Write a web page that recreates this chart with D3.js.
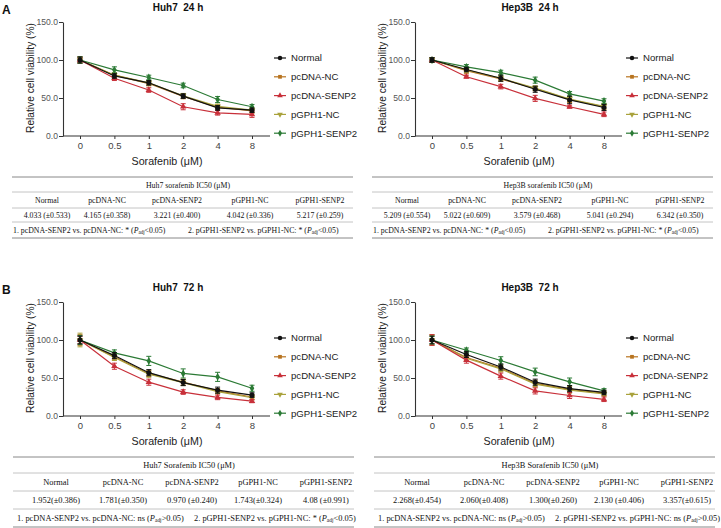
<!DOCTYPE html>
<html><head><meta charset="utf-8">
<script src="https://cdn.jsdelivr.net/npm/d3@7"></script>
<style>
body{margin:0;background:#fff;}
svg{display:block;font-family:"Liberation Sans",Arial,sans-serif;}
</style></head><body>
<svg id="c" width="721" height="528"></svg>
<script>
// ---------- DATA ----------
const doses = ["0","0.5","1","2","4","8"];
const seriesNames = ["Normal","pcDNA-NC","pcDNA-SENP2","pGPH1-NC","pGPH1-SENP2"];
const seriesColors = ["#111111","#b87420","#c8303a","#a9a23c","#2b7a35"];
const yTicks = [0,50,100,150];

const huh7_24h_values = [
  [100,79,70,52.5,37,34],
  [100,80,69,52,38,33],
  [100,76,60.5,38.5,30.5,28.5],
  [100,80,70,53,39,34],
  [100,87,77,66.5,48,38.5]
];
const huh7_24h_errors = [
  [4,3,3,3,3,3],
  [4,3,3,3,3,3],
  [3,3,3,4,3,4],
  [4,3,3,3,3,3],
  [4,4,3,3,4,3]
];
const hep3b_24h_values = [
  [100,87.5,76,61.5,47.5,37.5],
  [100,86,75,62.5,48,38.5],
  [100,78,65,49.5,38.5,28.5],
  [100,87,76,63,48.5,39],
  [100,91,83.5,73.5,55.5,46]
];
const hep3b_24h_errors = [
  [3,3,4,4,5,4],
  [3,4,3,3,4,4],
  [3,2,3,4,2,3],
  [3,3,3,3,3,3],
  [3,3,3,4,3,3]
];
const huh7_72h_values = [
  [100,79.5,57,44,34,27.5],
  [100,78,56,44.5,33,25],
  [100,65.5,44.5,31.5,24.5,19.5],
  [100,77,55,44,32,24],
  [100,83,72.5,56,51.5,36.5]
];
const huh7_72h_errors = [
  [5,4,4,4,4,3],
  [7,4,4,4,3,3],
  [5,4,4,3,3,2],
  [9,4,4,4,3,3],
  [6,4,6,6,6,4]
];
const hep3b_72h_values = [
  [100,81,64.5,44.5,36,31],
  [100,77,63,43,35,30],
  [100,73.5,52.5,33,27,22],
  [100,76,62,42,34,29],
  [100,86.5,73,58,45,33]
];
const hep3b_72h_errors = [
  [5,4,4,4,4,3],
  [7,4,4,4,4,3],
  [7,4,4,4,4,3],
  [6,4,4,4,4,3],
  [5,3,5,5,5,3]
];

const tableTitles = ["Huh7 sorafenib IC50 (μM)","Hep3B sorafenib IC50 (μM)","Huh7 Sorafenib IC50 (μM)","Hep3B Sorafenib IC50 (μM)"];
const ic50_huh7_24h = ["4.033 (±0.533)","4.165 (±0.358)","3.221 (±0.400)","4.042 (±0.336)","5.217 (±0.259)"];
const ic50_hep3b_24h = ["5.209 (±0.554)","5.022 (±0.609)","3.579 (±0.468)","5.041 (±0.294)","6.342 (±0.350)"];
const ic50_huh7_72h = ["1.952(±0.386)","1.781(±0.350)","0.970 (±0.240)","1.743(±0.324)","4.08 (±0.991)"];
const ic50_hep3b_72h = ["2.268(±0.454)","2.060(±0.408)","1.300(±0.260)","2.130 (±0.406)","3.357(±0.615)"];
const notes_huh7_24h = [["1. pcDNA-SENP2 vs. pcDNA-NC: * (","<0.05)"],["2. pGPH1-SENP2 vs. pGPH1-NC: * (","<0.05)"]];
const notes_hep3b_24h = [["1. pcDNA-SENP2 vs. pcDNA-NC: * (","<0.05)"],["2. pGPH1-SENP2 vs. pGPH1-NC: * (","<0.05)"]];
const notes_huh7_72h = [["1. pcDNA-SENP2 vs. pcDNA-NC: ns (",">0.05)"],["2. pGPH1-SENP2 vs. pGPH1-NC: * (","<0.05)"]];
const notes_hep3b_72h = [["1. pcDNA-SENP2 vs. pcDNA-NC: ns (",">0.05)"],["2. pGPH1-SENP2 vs. pGPH1-NC: ns (",">0.05)"]];

// ---------- LAYOUT ----------
const svg = d3.select("#c");
const shapes = [d3.symbolCircle, d3.symbolSquare, d3.symbolTriangle, d3.symbolTriangle, d3.symbolDiamond];
const shapeRot = [0,0,0,180,0];
const shapeSize = [20,18,18,18,18];

const panels = [
  {title:"Huh7  24 h", values:huh7_24h_values, errors:huh7_24h_errors, dx:0, dy:0, letter:"A",
   tTitle:tableTitles[0], ic50:ic50_huh7_24h, notes:notes_huh7_24h, tx:12, tset:0},
  {title:"Hep3B  24 h", values:hep3b_24h_values, errors:hep3b_24h_errors, dx:352, dy:0, letter:null,
   tTitle:tableTitles[1], ic50:ic50_hep3b_24h, notes:notes_hep3b_24h, tx:372, tset:0},
  {title:"Huh7  72 h", values:huh7_72h_values, errors:huh7_72h_errors, dx:0, dy:280, letter:"B",
   tTitle:tableTitles[2], ic50:ic50_huh7_72h, notes:notes_huh7_72h, tx:13, tset:1},
  {title:"Hep3B  72 h", values:hep3b_72h_values, errors:hep3b_72h_errors, dx:352, dy:280, letter:null,
   tTitle:tableTitles[3], ic50:ic50_hep3b_72h, notes:notes_hep3b_72h, tx:374, tset:1}
];

const tableLayouts = [
  {lines:[177,192,208,222,238], rows:[185,200.5,215,230.5], cols:[35,95,165,238,308], notesX:[1,176], fs:7.8},
  {lines:[457,473,491,509,527], rows:[465,482,500,518], cols:[43,110,179,245,313], notesX:[4,181], fs:8.4}
];
const tableW = 341;
const drawOrder = [1,3,2,4,0];

panels.forEach(p => {
  const g = svg.append("g");
  const y = d3.scaleLinear().domain([0,150]).range([136+p.dy, 22+p.dy]);
  const x = d3.scalePoint().domain(doses).range([80+p.dx, 252+p.dx]);
  const axX = 63+p.dx;

  if (p.letter) g.append("text").attr("x",2).attr("y",14+p.dy).attr("font-weight","bold")
      .attr("font-size",12).attr("fill","#111").text(p.letter);
  g.append("text").attr("x",178+p.dx).attr("y",11+p.dy).attr("text-anchor","middle")
    .attr("font-weight","bold").attr("font-size",10).attr("fill","#111").style("white-space","pre").text(p.title);

  // y axis
  const ya = g.append("g").attr("transform",`translate(${axX},0)`)
    .call(d3.axisLeft(y).tickValues(yTicks).tickFormat(d3.format(".1f")).tickSize(4).tickSizeOuter(0));
  ya.select(".domain").attr("stroke","#333").attr("stroke-width",1.1);
  ya.selectAll(".tick line").attr("stroke","#333");
  ya.selectAll(".tick text").attr("font-size",8.6).attr("fill","#555").attr("font-family","Liberation Sans, Arial, sans-serif").attr("x",-5);

  // x axis
  const xa = g.append("g").attr("transform",`translate(0,${136+p.dy})`)
    .call(d3.axisBottom(x).tickSize(3));
  xa.select(".domain").remove();
  xa.append("line").attr("x1",axX).attr("x2",270+p.dx).attr("stroke","#333").attr("stroke-width",1.1);
  xa.selectAll(".tick line").attr("stroke","#333");
  xa.selectAll(".tick text").attr("font-size",9.5).attr("fill","#444").attr("font-family","Liberation Sans, Arial, sans-serif").attr("y",6);

  g.append("text").attr("transform",`translate(${34+p.dx},${78+p.dy}) rotate(-90)`).attr("text-anchor","middle")
    .attr("font-size",10.2).attr("fill","#222").text("Relative cell viability (%)");
  g.append("text").attr("x",167+p.dx).attr("y",165+p.dy).attr("text-anchor","middle")
    .attr("font-size",10.7).attr("fill","#222").text("Sorafenib (μM)");

  // series
  drawOrder.forEach(si => {
    const vals = p.values[si], errs = p.errors[si], col = seriesColors[si];
    const sg = g.append("g");
    sg.append("path").datum(vals)
      .attr("d", d3.line().x((d,i)=>x(doses[i])).y(d=>y(d)))
      .attr("fill","none").attr("stroke",col).attr("stroke-width",1.2);
    vals.forEach((v,i) => {
      const cx = x(doses[i]);
      sg.append("line").attr("x1",cx).attr("x2",cx).attr("y1",y(v-errs[i])).attr("y2",y(v+errs[i])).attr("stroke",col).attr("stroke-width",1);
      [v-errs[i], v+errs[i]].forEach(e => sg.append("line").attr("x1",cx-2.5).attr("x2",cx+2.5).attr("y1",y(e)).attr("y2",y(e)).attr("stroke",col).attr("stroke-width",1));
      sg.append("path").attr("d", d3.symbol(shapes[si], shapeSize[si])())
        .attr("transform",`translate(${cx},${y(v)}) rotate(${shapeRot[si]})`).attr("fill",col);
    });
  });

  // legend
  seriesNames.forEach((n,si) => {
    const ly = 58 + p.dy + si*18.8;
    g.append("line").attr("x1",274+p.dx).attr("x2",286+p.dx).attr("y1",ly).attr("y2",ly).attr("stroke",seriesColors[si]).attr("stroke-width",1.2);
    g.append("path").attr("d", d3.symbol(shapes[si], shapeSize[si]-4)())
      .attr("transform",`translate(${280+p.dx},${ly}) rotate(${shapeRot[si]})`).attr("fill",seriesColors[si]);
    g.append("text").attr("x",291+p.dx).attr("y",ly).attr("dy","0.35em").attr("font-size",9.6).attr("fill","#222").text(n);
  });

  // table
  const tl = tableLayouts[p.tset];
  const tg = g.append("g").attr("font-family","Liberation Serif, Times New Roman, serif").attr("font-size",tl.fs).attr("fill","#111");
  tl.lines.forEach((ly,i) => {
    tg.append("line").attr("x1",p.tx).attr("x2",p.tx+tableW).attr("y1",ly).attr("y2",ly)
      .attr("stroke", (i===0||i===tl.lines.length-1) ? "#888" : "#c4c4c4").attr("stroke-width",1);
  });
  tg.append("text").attr("x",p.tx+176).attr("y",tl.rows[0]).attr("dy","0.35em").attr("text-anchor","middle").text(p.tTitle);
  seriesNames.forEach((n,ci) => {
    tg.append("text").attr("x",p.tx+tl.cols[ci]).attr("y",tl.rows[1]).attr("dy","0.35em").attr("text-anchor","middle").text(n);
    tg.append("text").attr("x",p.tx+tl.cols[ci]).attr("y",tl.rows[2]).attr("dy","0.35em").attr("text-anchor","middle").text(p.ic50[ci]);
  });
  p.notes.forEach((nt,ni) => {
    const t = tg.append("text").attr("x",p.tx+tl.notesX[ni]).attr("y",tl.rows[3]).attr("dy","0.35em");
    t.append("tspan").text(nt[0]);
    t.append("tspan").attr("font-style","italic").text("P");
    t.append("tspan").attr("font-size",tl.fs*0.65).attr("dy","0.25em").text("adj");
    t.append("tspan").attr("dy","-0.17em").text(nt[1]);
  });
});
</script>
</body></html>
